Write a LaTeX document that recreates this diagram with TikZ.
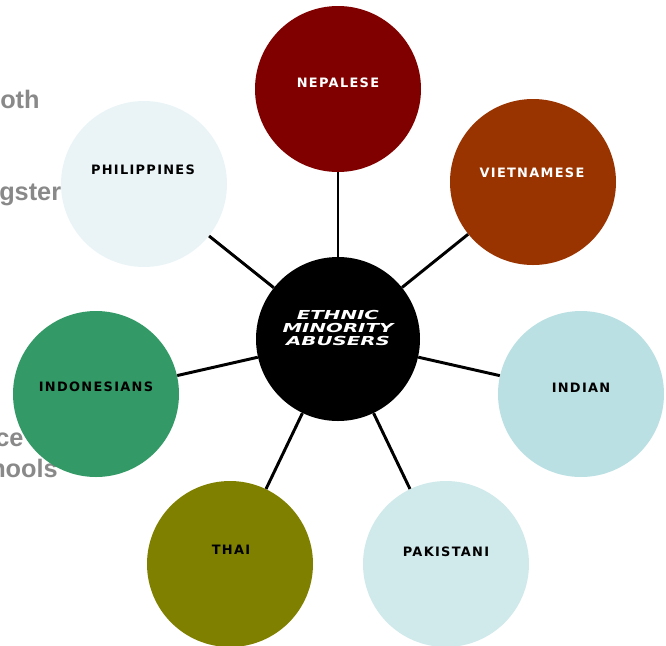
\documentclass[tikz,border=0pt]{standalone}
\usepackage{fontspec}
\usepackage{xcolor}
\setmainfont{Liberation Sans}
\newfontfamily\labelfont{DejaVu Sans}[LetterSpace=10]
\newfontfamily\hubfont{DejaVu Sans}[FakeStretch=1.6]

\definecolor{nepalred}{HTML}{800000}
\definecolor{rust}{HTML}{993300}
\definecolor{paleblue}{HTML}{BBE0E3}
\definecolor{paleaqua}{HTML}{D0E9EB}
\definecolor{icewhite}{HTML}{EAF4F7}
\definecolor{seagreen}{HTML}{339966}
\definecolor{olive}{HTML}{808000}
\definecolor{sidegray}{HTML}{898989}

\begin{document}
\begin{tikzpicture}[
    blob/.style={circle,minimum size=4.15cm,inner sep=0pt},
    hub/.style={circle,fill=black,minimum size=4.1cm,inner sep=0pt},
    tag/.style={font=\labelfont\bfseries\fontsize{9.2}{10}\selectfont},
    hubtag/.style={font=\hubfont\bfseries\itshape\fontsize{8.8}{9.2}\selectfont,text=white,align=center,inner sep=0pt},
    side/.style={anchor=base west,inner sep=0pt,text=sidegray,font=\bfseries\fontsize{18}{20}\selectfont},
    spoke/.style={line width=2.1pt,black}
  ]
            \useasboundingbox (0,0) rectangle (16.65,-16.125);

            % cut off text on the left
            \node[side] (t1) at (0,-2.7){oth};
            \node[side] (t2) at (-0.025,-5.0){gster};
            \node[side] (t3) at (-0.125,-11.15){ce};
            \node[side] (t4) at (-0.25,-11.925){hools};

            \node[hub] (hub) at (8.45,-8.475){};
            \node[hubtag] (hubtxt) at (8.45,-8.2){ETHNIC\\MINORITY\\ABUSERS};

            \node[blob,fill=nepalred] (nep) at (8.45,-2.225){};
            \node[blob,fill=rust] (viet) at (13.325,-4.55){};
            \node[blob,fill=paleblue] (ind) at (14.525,-9.85){};
            \node[blob,fill=paleaqua] (pak) at (11.15,-14.1){};
            \node[blob,fill=olive] (thai) at (5.75,-14.1){};
            \node[blob,fill=seagreen] (indo) at (2.4,-9.85){};
            \node[blob,fill=icewhite] (phil) at (3.6,-4.6){};

            \node[tag,text=white] (neptxt) at (8.45,-2.075){NEPALESE};
            \node[tag,text=white] (viettxt) at (13.3,-4.325){VIETNAMESE};
            \node[tag] (indtxt) at (14.525,-9.7){INDIAN};
            \node[tag] (paktxt) at (11.15,-13.8){PAKISTANI};
            \node[tag] (thaitxt) at (5.775,-13.75){THAI};
            \node[tag] (indotxt) at (2.4,-9.675){INDONESIANS};
            \node[tag] (philtxt) at (3.575,-4.25){PHILIPPINES};

            \draw[spoke] (hub) -- (nep);
            \draw[spoke] (hub) -- (viet);
            \draw[spoke] (hub) -- (ind);
            \draw[spoke] (hub) -- (pak);
            \draw[spoke] (hub) -- (thai);
            \draw[spoke] (hub) -- (indo);
            \draw[spoke] (hub) -- (phil);
        \end{tikzpicture}
\end{document}
